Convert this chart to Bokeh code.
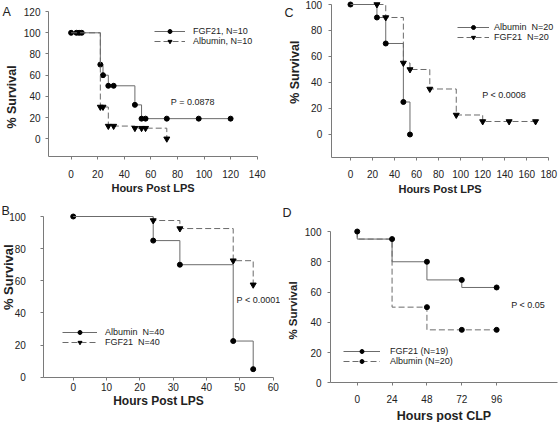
import math
from bokeh.plotting import figure
from bokeh.layouts import column, row
from bokeh.models import Label, Legend, LegendItem, FixedTicker, Range1d
from bokeh.embed import file_html
from bokeh.resources import INLINE

FONT = "Liberation Sans"
LINE = "#6b6b6b"
AXIS = "#7a7a7a"
TXT = "#222222"

# ---------------- Panel A ----------------
a_fgf_step_x = [0, 22, 24, 28, 48, 53, 120]
a_fgf_step_y = [100, 70, 60, 50, 32, 19, 19]
a_fgf_pts_x = [0, 4, 6, 8, 22, 24, 28, 32, 48, 53, 56, 72, 96, 120]
a_fgf_pts_y = [100, 100, 100, 100, 70, 60, 50, 50, 32, 19, 19, 19, 19, 19]
a_alb_step_x = [0, 22, 28, 48, 72]
a_alb_step_y = [100, 30, 12, 10, 0]
a_alb_pts_x = [22, 24, 28, 32, 48, 53, 56, 72]
a_alb_pts_y = [30, 30, 12, 12, 10, 10, 10, 0]
a_xticks = [0, 20, 40, 60, 80, 100, 120, 140]
a_yticks = [0, 20, 40, 60, 80, 100, 120]

# ---------------- Panel B ----------------
b_alb_step_x = [0, 24, 32, 48, 54]
b_alb_step_y = [100, 85, 70, 22.5, 5]
b_alb_pts_x = [0, 24, 32, 48, 54]
b_alb_pts_y = [100, 85, 70, 22.5, 5]
b_fgf_step_x = [0, 24, 32, 48, 54]
b_fgf_step_y = [100, 97.5, 92.5, 72.5, 57.5]
b_fgf_pts_x = [24, 32, 48, 54]
b_fgf_pts_y = [97.5, 92.5, 72.5, 57.5]
b_xticks = [0, 10, 20, 30, 40, 50, 60]
b_yticks = [0, 20, 40, 60, 80, 100]

# ---------------- Panel C ----------------
c_alb_step_x = [0, 24, 32, 48, 54]
c_alb_step_y = [100, 90, 70, 25, 0]
c_alb_pts_x = [0, 24, 32, 48, 54]
c_alb_pts_y = [100, 90, 70, 25, 0]
c_fgf_step_x = [0, 32, 48, 54, 72, 96, 120, 168]
c_fgf_step_y = [100, 90, 55, 50, 35, 15, 10, 10]
c_fgf_pts_x = [24, 32, 48, 54, 72, 96, 120, 144, 168]
c_fgf_pts_y = [100, 90, 55, 50, 35, 15, 10, 10, 10]
c_xticks = [0, 20, 40, 60, 80, 100, 120, 140, 160, 180]
c_yticks = [0, 20, 40, 60, 80, 100]

# ---------------- Panel D ----------------
d_fgf_step_x = [0, 0, 24, 48, 72, 96]
d_fgf_step_y = [100, 95, 80, 68, 63, 63]
d_fgf_pts_x = [0, 24, 48, 72, 96]
d_fgf_pts_y = [100, 95, 80, 68, 63]
d_alb_step_x = [0, 0, 24, 48, 96]
d_alb_step_y = [100, 95, 50, 35, 35]
d_alb_pts_x = [48, 72, 96]
d_alb_pts_y = [50, 35, 35]
d_xticks = [0, 24, 48, 72, 96]
d_yticks = [0, 20, 40, 60, 80, 100]


def lin(d0, d1, p0, p1, e):
    return d0 + (e - p0) * (d1 - d0) / (p1 - p0)


def make_fig(box, xb, yb, xticks, yticks, xlabel, xlab_font, ystand, xstand):
    """box = (left, top, width, height) of the figure on the page;
    xb = (xmin, xmax, px_left, px_right) axis extent and its page pixels;
    yb = (ymin, ymax, px_bottom, px_top)."""
    fl, ft, fw, fh = box
    xmin, xmax, pxl, pxr = xb
    ymin, ymax, pyb, pyt = yb
    xr = Range1d(lin(xmin, xmax, pxl, pxr, fl), lin(xmin, xmax, pxl, pxr, fl + fw))
    yr = Range1d(lin(ymin, ymax, pyb, pyt, ft + fh), lin(ymin, ymax, pyb, pyt, ft))
    p = figure(width=fw, height=fh, output_backend="svg", title=None,
               toolbar_location=None, x_range=xr, y_range=yr, min_border=0)
    p.xgrid.visible = False
    p.ygrid.visible = False
    p.outline_line_color = None
    p.background_fill_color = "white"
    p.border_fill_color = "white"
    p.xaxis.ticker = FixedTicker(ticks=xticks)
    p.yaxis.ticker = FixedTicker(ticks=yticks)
    p.xaxis.fixed_location = ymin
    p.xaxis.bounds = (xmin, xmax)
    p.yaxis.fixed_location = xmin
    p.yaxis.bounds = (ymin, ymax)
    p.xaxis.axis_label = xlabel
    for ax in (p.xaxis[0], p.yaxis[0]):
        ax.axis_line_color = AXIS
        ax.major_tick_line_color = AXIS
        ax.major_tick_out = 3
        ax.major_tick_in = 0
        ax.minor_tick_line_color = None
        ax.major_label_text_font = FONT
        ax.major_label_text_font_size = "10px"
        ax.major_label_text_color = TXT
        ax.axis_label_text_font = FONT
        ax.axis_label_text_font_style = "bold"
        ax.axis_label_text_color = TXT
    p.xaxis.axis_label_text_font_size = xlab_font
    p.yaxis.major_label_standoff = ystand
    p.xaxis.major_label_standoff = xstand[0]
    p.xaxis.axis_label_standoff = xstand[1]
    return p


def y_title(p, x, y, size):
    # y-axis title, placed in screen pixels of the figure
    p.add_layout(Label(x=x, y=y, x_units="screen", y_units="screen",
                       text="% Survival", angle=math.pi / 2,
                       text_font=FONT, text_font_size=size,
                       text_font_style="bold", text_color=TXT,
                       text_align="center", text_baseline="middle"))


def km(p, sx, sy, px, py, dashed, marker):
    kw = dict(line_color=LINE, line_width=1)
    if dashed:
        kw["line_dash"] = "6 3"
    rl = p.step(x=sx, y=sy, mode="after", **kw)
    rs = p.scatter(x=px, y=py, marker=marker,
                   size=5 if marker == "circle" else 6,
                   fill_color="black", line_color="black")
    return rl, rs


def add_legend(p, items, loc, glyph_w, standoff):
    leg = Legend(items=[LegendItem(label=t, renderers=list(rs)) for t, rs in items],
                 location=loc, orientation="vertical",
                 glyph_width=glyph_w, glyph_height=10, label_height=10,
                 label_standoff=standoff, spacing=0, padding=0, margin=0,
                 border_line_color=None, background_fill_alpha=0,
                 label_text_font=FONT, label_text_font_size="9px",
                 label_text_color=TXT, label_text_baseline="middle")
    p.add_layout(leg)


def add_text(p, x, y, text, size="9px"):
    p.add_layout(Label(x=x, y=y, text=text,
                       text_font=FONT, text_font_size=size,
                       text_color=TXT, text_baseline="middle"))


def panel_letter(p, x, y, letter):
    p.add_layout(Label(x=x, y=y, x_units="screen", y_units="screen",
                       text=letter, text_font=FONT, text_font_size="12.5px",
                       text_color=TXT, text_baseline="alphabetic"))


# Panel A  (figure box on page: x 0..280, y 0..196)
pA = make_fig((0, 0, 280, 196), (-17, 140, 48, 256.7), (-17, 120, 156.3, 11.1),
              a_xticks, a_yticks, "Hours Post LPS", "11px", 5, (10, 1))
ra1 = km(pA, a_fgf_step_x, a_fgf_step_y, a_fgf_pts_x, a_fgf_pts_y, False, "circle")
ra2 = km(pA, a_alb_step_x, a_alb_step_y, a_alb_pts_x, a_alb_pts_y, True, "inverted_triangle")
add_legend(pA, [("FGF21, N=10", ra1), ("Albumin, N=10", ra2)], (154, 150), 31, 8)
add_text(pA, 75, 35, "P = 0.0878")
y_title(pA, 11.5, 99.5, "12.5px")
panel_letter(pA, 2, 185, "A")

# Panel B  (x 0..280, y 196..422)
pB = make_fig((0, 196, 280, 226), (-8.8, 60, 43.4, 272.7), (0, 100, 376.7, 216),
              b_xticks, b_yticks, "Hours Post LPS", "12px", 15, (3, -1))
rb1 = km(pB, b_alb_step_x, b_alb_step_y, b_alb_pts_x, b_alb_pts_y, False, "circle")
rb2 = km(pB, b_fgf_step_x, b_fgf_step_y, b_fgf_pts_x, b_fgf_pts_y, True, "inverted_triangle")
add_legend(pB, [("Albumin  N=40", rb1), ("FGF21  N=40", rb2)], (62, 75), 35, 8)
add_text(pB, 49, 48.2, "P < 0.0001")
y_title(pB, 8, 145.3, "13px")
panel_letter(pB, 1, 212, "B")

# Panel C  (x 280..560, y 0..196)
pC = make_fig((280, 0, 280, 196), (-17.5, 180, 330.7, 548.3), (-17.7, 100, 157, 4),
              c_xticks, c_yticks, "Hours Post LPS", "11px", 6, (9, 2))
rc1 = km(pC, c_alb_step_x, c_alb_step_y, c_alb_pts_x, c_alb_pts_y, False, "circle")
rc2 = km(pC, c_fgf_step_x, c_fgf_step_y, c_fgf_pts_x, c_fgf_pts_y, True, "inverted_triangle")
add_legend(pC, [("Albumin  N=20", rc1), ("FGF21  N=20", rc2)], (177, 154), 32, 5)
add_text(pC, 119.5, 30.5, "P < 0.0008")
y_title(pC, 14, 124.3, "12.5px")
panel_letter(pC, 4, 184, "C")

# Panel D  (x 280..560, y 196..422)
pD = make_fig((280, 196, 280, 226), (-18.4, 137.7, 330, 556.7), (0, 100, 382.3, 231),
              d_xticks, d_yticks, "Hours post CLP", "12.5px", 6, (9, 3))
rd2 = km(pD, d_alb_step_x, d_alb_step_y, d_alb_pts_x, d_alb_pts_y, True, "circle")
rd1 = km(pD, d_fgf_step_x, d_fgf_step_y, d_fgf_pts_x, d_fgf_pts_y, False, "circle")
add_legend(pD, [("FGF21 (N=19)", rd1), ("Albumin (N=20)", rd2)], (63, 56), 37, 10)
add_text(pD, 106, 51.5, "P < 0.05")
y_title(pD, 12, 112, "11.5px")
panel_letter(pD, 2, 210, "D")

layout = column(row(pA, pC), row(pB, pD))

open("out.html", "w").write(file_html(layout, INLINE))
